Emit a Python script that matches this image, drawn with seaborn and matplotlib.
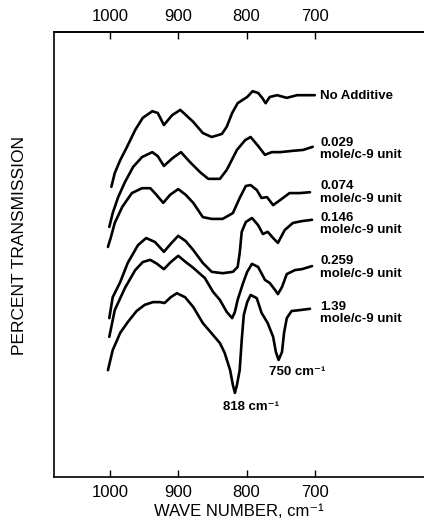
import matplotlib
matplotlib.use("Agg")
import matplotlib.pyplot as plt
import numpy as np
import pandas as pd
import seaborn as sns

# ---- data (wave number, cm-1 ; percent transmission, curves offset) ----
wn_none = [998, 993, 985, 975, 963, 952, 938, 930, 921, 909, 897, 878, 864, 851, 836, 829, 821, 813, 799, 791, 783, 777, 772, 766, 755, 741, 726, 714, 700]
t_none = [65.2, 68.3, 71.2, 74.2, 78.0, 80.7, 82.2, 81.8, 79.1, 81.3, 82.5, 79.8, 77.3, 76.4, 77.1, 78.7, 81.8, 84.0, 85.4, 86.7, 86.3, 85.2, 84.0, 85.4, 85.8, 85.2, 85.8, 85.8, 85.8]

wn_029 = [1001, 996, 988, 978, 966, 953, 938, 930, 921, 908, 896, 883, 868, 856, 839, 829, 814, 802, 794, 783, 773, 763, 751, 732, 717, 703]
t_029 = [56.2, 59.3, 62.9, 66.3, 69.7, 71.9, 73.0, 72.1, 69.9, 71.7, 73.0, 70.8, 68.5, 67.0, 67.0, 69.0, 73.5, 75.7, 76.4, 74.4, 72.4, 73.0, 73.0, 73.3, 73.5, 74.2]

wn_074 = [1003, 999, 993, 982, 968, 953, 941, 933, 922, 912, 900, 889, 878, 864, 851, 835, 820, 810, 801, 794, 785, 778, 770, 761, 751, 737, 722, 707]
t_074 = [51.7, 53.7, 57.1, 60.7, 63.8, 64.9, 64.9, 63.6, 61.6, 63.4, 64.7, 63.4, 61.6, 58.4, 58.0, 58.0, 59.3, 62.7, 65.4, 65.6, 64.5, 62.7, 62.9, 61.1, 62.2, 63.8, 63.8, 64.0]

wn_146 = [1001, 996, 985, 974, 959, 947, 934, 921, 911, 900, 889, 878, 864, 851, 835, 820, 813, 810, 807, 801, 792, 783, 776, 769, 761, 754, 744, 732, 719, 704]
t_146 = [35.7, 40.4, 43.8, 48.1, 52.1, 53.7, 52.8, 50.6, 52.4, 54.2, 53.0, 51.0, 48.1, 46.1, 45.8, 46.1, 47.2, 50.3, 55.1, 57.3, 58.2, 56.6, 54.6, 55.1, 53.7, 52.6, 55.5, 57.1, 57.5, 57.8]

wn_259 = [1001, 993, 978, 963, 952, 941, 931, 921, 911, 900, 889, 878, 861, 849, 839, 829, 821, 817, 813, 805, 799, 792, 783, 773, 766, 758, 754, 748, 741, 729, 719, 704]
t_259 = [31.5, 37.5, 42.5, 46.5, 48.3, 48.8, 47.9, 46.7, 48.3, 49.7, 48.3, 47.0, 44.7, 41.6, 39.8, 37.1, 35.7, 37.1, 39.8, 43.6, 46.1, 47.9, 47.2, 44.3, 43.6, 42.0, 41.1, 42.7, 45.6, 46.5, 46.7, 47.4]

wn_139 = [1003, 996, 985, 974, 961, 949, 937, 927, 920, 911, 902, 890, 878, 864, 849, 839, 832, 824, 820, 817, 814, 810, 807, 804, 799, 794, 785, 778, 769, 761, 757, 753, 748, 745, 741, 734, 722, 707]
t_139 = [24.0, 28.5, 32.4, 34.8, 37.3, 38.7, 39.3, 39.3, 39.1, 40.4, 41.3, 40.4, 38.2, 34.6, 31.9, 30.1, 27.9, 24.0, 20.7, 18.9, 20.7, 24.0, 30.8, 36.4, 39.3, 40.9, 40.2, 36.9, 34.6, 31.5, 28.1, 26.3, 28.1, 32.4, 35.7, 37.3, 37.5, 37.8]

sample_labels = ["No Additive", "0.029\nmole/c-9 unit", "0.074\nmole/c-9 unit",
                 "0.146\nmole/c-9 unit", "0.259\nmole/c-9 unit", "1.39\nmole/c-9 unit"]
band_labels = ["750 cm\u207b\u00b9", "818 cm\u207b\u00b9"]
tick_values = [1000, 900, 800, 700]
tick_labels = ["1000", "900", "800", "700"]

series = [(sample_labels[0], wn_none, t_none), (sample_labels[1], wn_029, t_029),
          (sample_labels[2], wn_074, t_074), (sample_labels[3], wn_146, t_146),
          (sample_labels[4], wn_259, t_259), (sample_labels[5], wn_139, t_139)]

df = pd.concat([pd.DataFrame({"wn": w, "T": t, "sample": n}) for n, w, t in series],
               ignore_index=True)

sns.set_theme(style="white")
plt.rcParams["font.family"] = ["Liberation Sans", "DejaVu Sans"]

fig = plt.figure(figsize=(4.24, 5.23), dpi=100)
fig.patch.set_facecolor("white")
ax = fig.add_axes([54 / 424, 1 - 477 / 523, 1 - 54 / 424, (477 - 32) / 523])

sns.lineplot(data=df, x="wn", y="T", hue="sample", units="sample", estimator=None,
             sort=False, palette=["black"] * 6, linewidth=1.9, legend=False, ax=ax)
for ln in ax.get_lines():
    ln.set_solid_joinstyle("round")
    ln.set_solid_capstyle("round")

ax.set_xlim(1082, 540)
ax.set_ylim(0, 100)
ax.set_xticks(tick_values)
ax.set_xticklabels(tick_labels)
ax.set_yticks([])
ax.tick_params(axis="x", direction="in", length=5, width=1.0, color="black",
               pad=6, labelsize=12, labelcolor="black", bottom=True)
sec = ax.secondary_xaxis("top")
sec.set_xticks(tick_values)
sec.set_xticklabels(tick_labels)
sec.tick_params(direction="in", length=5, width=1.0, color="black", pad=5.5,
                labelsize=12, labelcolor="black")
for s in ["left", "top", "bottom"]:
    ax.spines[s].set_color("black")
    ax.spines[s].set_linewidth(1.2)
ax.spines["right"].set_visible(False)
sec.spines["top"].set_color("black")
sec.spines["top"].set_linewidth(1.2)

ax.set_xlabel("WAVE NUMBER, cm\u207b\u00b9", fontsize=12, color="black", labelpad=3)
ax.set_ylabel("")
fig.text(20 / 424, 1 - 245 / 523, "PERCENT TRANSMISSION", rotation=90,
         ha="center", va="center", fontsize=12.5, color="black")

label_y = [85.6, 73.7, 63.9, 56.9, 47.1, 36.9]
for txt, yy in zip(sample_labels, label_y):
    ax.text(692, yy, txt, ha="left", va="center", fontsize=9.5, fontweight="bold",
            linespacing=1.05, color="black")
ax.text(726, 23.6, band_labels[0], ha="center", va="center", fontsize=9.5,
        fontweight="bold", color="black")
ax.text(794, 15.7, band_labels[1], ha="center", va="center", fontsize=9.5,
        fontweight="bold", color="black")

fig.savefig("out.png", dpi=100, facecolor="white")
